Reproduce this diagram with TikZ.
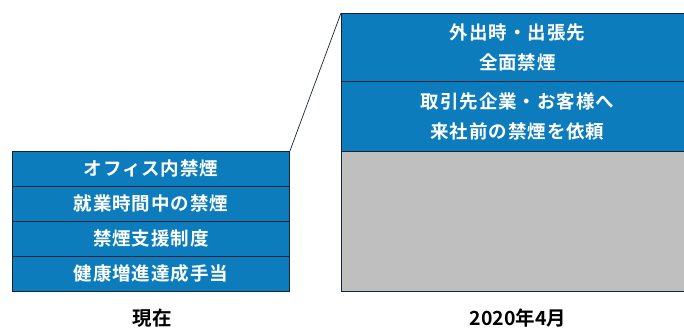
\documentclass[tikz,border=0pt]{standalone}
\usepackage{fontspec}
\newfontfamily\jpb[LetterSpace=5]{Noto Sans CJK JP Bold}
\newfontfamily\jpl{Noto Sans CJK JP Bold}
\definecolor{boxblue}{RGB}{12,124,188}
\definecolor{boxgray}{RGB}{191,191,191}
\definecolor{edge}{RGB}{25,35,55}
\tikzset{
  row/.style={draw=edge, line width=0.9pt, fill=boxblue, text=white, inner sep=0pt,
    font=\jpb\fontsize{18.5}{30}\selectfont, align=center, anchor=north west},
  graybox/.style={draw=edge, line width=0.9pt, fill=boxgray, inner sep=0pt, anchor=north west},
  caption/.style={font=\jpl\fontsize{19.5}{22}\selectfont, text=black},
  zoomline/.style={draw=edge, line width=0.7pt}
}
\begin{document}
\begin{tikzpicture}[x=1pt,y=-1pt]
\useasboundingbox[fill=white] (0,0) rectangle (684,329);
% left stack
\node[row, minimum width=277pt, minimum height=35pt] (l1) at (12,151) {オフィス内禁煙};
\node[row, minimum width=277pt, minimum height=35pt] (l2) at (12,186) {就業時間中の禁煙};
\node[row, minimum width=277pt, minimum height=35pt] (l3) at (12,221) {禁煙支援制度};
\node[row, minimum width=277pt, minimum height=35pt] (l4) at (12,256) {健康増進達成手当};
% right stack
\node[graybox, minimum width=352pt, minimum height=140pt] (r3) at (341,151) {};
\node[row, minimum width=352pt, minimum height=68pt] (r1) at (341,13) {外出時・出張先\\全面禁煙};
\node[row, minimum width=352pt, minimum height=70pt] (r2) at (341,81) {取引先企業・お客様へ\\来社前の禁煙を依頼};
% zoom line
\draw[zoomline] (l1.north east) -- (r1.north west);
% captions
\node[caption] (c1) at (152,318) {現在};
\node[caption] (c2) at (518,318) {2020年4月};
\end{tikzpicture}
\end{document}
